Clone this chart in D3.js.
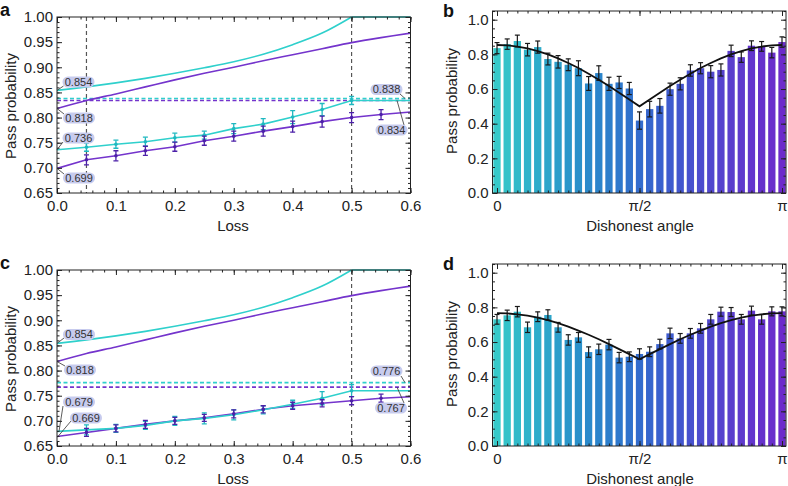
<!DOCTYPE html>
<html>
<head>
<meta charset="utf-8">
<script src="https://cdn.jsdelivr.net/npm/d3@7"></script>
<style>
    body { margin: 0; background: #fff; }
    svg { font-family: "Liberation Sans", Arial, sans-serif; }
</style>
</head>
<body>
<svg id="chart" width="788" height="486"></svg>
<script>
// ---- data ----
const lossGrid = [0, 0.05, 0.1, 0.15, 0.2, 0.25, 0.3, 0.35, 0.4, 0.45, 0.5, 0.55, 0.6]

// upper (theory) curves, same in a and c
const upperCyan = [0.854, 0.861, 0.869, 0.878, 0.888, 0.899, 0.911, 0.926, 0.945, 0.968, 1.0, 1.0, 1.0]
const upperPurple = [0.818, 0.834, 0.847, 0.861, 0.875, 0.888, 0.900, 0.913, 0.925, 0.937, 0.949, 0.959, 0.968]

// panel a
const lowCyanA = [0.736, 0.741, 0.747, 0.752, 0.760, 0.765, 0.778, 0.787, 0.801, 0.816, 0.834, 0.834, 0.834]
const lowPurpleA = [0.699, 0.716, 0.724, 0.734, 0.742, 0.754, 0.763, 0.773, 0.782, 0.792, 0.800, 0.806, 0.811]
const errCyanA = [0, 0.008, 0.008, 0.009, 0.009, 0.008, 0.010, 0.011, 0.013, 0.012, 0.008, 0, 0]
const errPurpleA = [0, 0.010, 0.010, 0.009, 0.009, 0.009, 0.010, 0.010, 0.011, 0.011, 0.010, 0.010, 0]
const dashA = { cyan: 0.838, purple: 0.834 }

// panel c
const lowCyanC = [0.679, 0.682, 0.685, 0.691, 0.700, 0.705, 0.712, 0.722, 0.733, 0.745, 0.760, 0.760, 0.760]
const lowPurpleC = [0.669, 0.677, 0.685, 0.693, 0.700, 0.706, 0.714, 0.723, 0.730, 0.735, 0.740, 0.745, 0.748]
const errCyanC = [0, 0.010, 0.008, 0.008, 0.009, 0.011, 0.010, 0.008, 0.008, 0.013, 0.012, 0, 0]
const errPurpleC = [0, 0.008, 0.007, 0.008, 0.007, 0.007, 0.008, 0.007, 0.007, 0.007, 0.008, 0.008, 0]
const dashC = { cyan: 0.776, purple: 0.767 }

// panels b and d: 29 dishonest angles from 0 to pi
const barsB = [0.836, 0.859, 0.877, 0.827, 0.842, 0.773, 0.757, 0.740, 0.720, 0.632, 0.692, 0.630, 0.638, 0.603, 0.418,
    0.484, 0.503, 0.599, 0.630, 0.707, 0.720, 0.700, 0.710, 0.820, 0.784, 0.850, 0.846, 0.810, 0.871]
const errB = [0.032, 0.030, 0.034, 0.036, 0.035, 0.034, 0.036, 0.034, 0.043, 0.040, 0.042, 0.038, 0.035, 0.035, 0.050,
    0.045, 0.042, 0.035, 0.035, 0.033, 0.032, 0.035, 0.035, 0.033, 0.030, 0.028, 0.028, 0.030, 0.030]
const curveB = [0.854, 0.852, 0.845, 0.834, 0.819, 0.800, 0.777, 0.750, 0.721, 0.688, 0.654, 0.617, 0.579, 0.540, 0.500,
    0.540, 0.579, 0.617, 0.654, 0.688, 0.721, 0.750, 0.777, 0.800, 0.819, 0.834, 0.845, 0.852, 0.854]

const barsD = [0.731, 0.754, 0.775, 0.685, 0.746, 0.756, 0.685, 0.612, 0.627, 0.542, 0.558, 0.585, 0.510, 0.515, 0.531,
    0.544, 0.588, 0.650, 0.621, 0.650, 0.679, 0.731, 0.775, 0.773, 0.731, 0.781, 0.731, 0.777, 0.777]
const errD = [0.028, 0.030, 0.030, 0.030, 0.028, 0.030, 0.028, 0.030, 0.028, 0.030, 0.030, 0.030, 0.030, 0.028, 0.030,
    0.028, 0.028, 0.030, 0.028, 0.028, 0.028, 0.028, 0.026, 0.026, 0.028, 0.026, 0.028, 0.026, 0.026]
const curveD = [0.767, 0.765, 0.760, 0.752, 0.741, 0.726, 0.709, 0.689, 0.666, 0.642, 0.616, 0.588, 0.559, 0.530, 0.500,
    0.530, 0.559, 0.588, 0.616, 0.642, 0.666, 0.689, 0.709, 0.726, 0.741, 0.752, 0.760, 0.765, 0.767]

const angleLabels = ['0', 'π/2', 'π']

// ---- styles ----
const cyan = '#2fd0cc'
const purple = '#7434cc'
const purpleDark = '#4c20a8'
const cyanDark = '#1fb8c0'
const ink = '#222'
const badgeFill = '#c7cbee'

const svg = d3.select('#chart')

function frameTicks(g, x, y, box, xMajor, xMinor, yMajor, yMinor, xFmt, yFmt) {
    const addAxis = (axis, tr) => {
        const a = g.append('g').attr('transform', tr).call(axis)
        a.select('.domain').remove()
        a.selectAll('line').attr('stroke', ink)
        a.selectAll('text').attr('fill', ink).style('font-size', '15px')
        return a
    }
    addAxis(d3.axisBottom(x).tickValues(xMajor).tickSize(-5).tickPadding(7).tickFormat(xFmt), `translate(0,${box.bottom})`)
    addAxis(d3.axisBottom(x).tickValues(xMinor).tickSize(-2.5).tickFormat(''), `translate(0,${box.bottom})`)
    addAxis(d3.axisTop(x).tickValues(xMajor).tickSize(-5).tickFormat(''), `translate(0,${box.top})`)
    addAxis(d3.axisTop(x).tickValues(xMinor).tickSize(-2.5).tickFormat(''), `translate(0,${box.top})`)
    addAxis(d3.axisLeft(y).tickValues(yMajor).tickSize(-5).tickPadding(4).tickFormat(yFmt), `translate(${box.left},0)`)
    addAxis(d3.axisLeft(y).tickValues(yMinor).tickSize(-2.5).tickFormat(''), `translate(${box.left},0)`)
    addAxis(d3.axisRight(y).tickValues(yMajor).tickSize(-5).tickFormat(''), `translate(${box.right},0)`)
    addAxis(d3.axisRight(y).tickValues(yMinor).tickSize(-2.5).tickFormat(''), `translate(${box.right},0)`)

    g.append('rect')
        .attr('x', box.left).attr('y', box.top)
        .attr('width', box.right - box.left).attr('height', box.bottom - box.top)
        .attr('fill', 'none').attr('stroke', ink).attr('stroke-width', 1)
}

function titles(g, letter, lx, ly, ytx, yty, xtx, xty, xTitle) {
    g.append('text').attr('x', lx).attr('y', ly).text(letter)
        .style('font-size', '18px').style('font-weight', 'bold').attr('fill', '#111')
    g.append('text').attr('transform', `translate(${ytx},${yty}) rotate(-90)`)
        .attr('text-anchor', 'middle').attr('dy', '0.35em')
        .style('font-size', '15px').attr('fill', ink).text('Pass probability')
    g.append('text').attr('x', xtx).attr('y', xty).attr('text-anchor', 'middle')
        .style('font-size', '15px').attr('fill', ink).text(xTitle)
}

function badge(g, text, cx, cy, from, to) {
    g.append('line')
        .attr('x1', from[0]).attr('y1', from[1]).attr('x2', to[0]).attr('y2', to[1])
        .attr('stroke', '#333').attr('stroke-width', 0.8)
    g.append('rect')
        .attr('x', cx - 16).attr('y', cy - 5.5).attr('width', 32).attr('height', 11)
        .attr('rx', 5.5).attr('fill', badgeFill)
    g.append('text').attr('x', cx).attr('y', cy).attr('dy', '0.36em')
        .attr('text-anchor', 'middle').style('font-size', '11px').attr('fill', '#333').text(text)
}

function drawLossPanel(p) {
    const box = { left: 57, right: 410.5, top: p.top, bottom: p.top + 176 }
    const x = d3.scaleLinear().domain([0, 0.6]).range([box.left, box.right])
    const y = d3.scaleLinear().domain([0.65, 1.0]).range([box.bottom, box.top])
    const g = svg.append('g')

    const clipId = 'clip-' + p.letter
    svg.append('clipPath').attr('id', clipId).append('rect')
        .attr('x', box.left).attr('y', box.top - 1)
        .attr('width', box.right - box.left).attr('height', box.bottom - box.top + 1)

    const plot = g.append('g').attr('clip-path', `url(#${clipId})`)

    // vertical reference lines
    p.vlines.forEach(v => {
        plot.append('line')
            .attr('x1', x(v)).attr('x2', x(v)).attr('y1', box.top).attr('y2', box.bottom)
            .attr('stroke', '#555').attr('stroke-width', 1.2).attr('stroke-dasharray', '4,3')
    })

    // dashed horizontal asymptotes
    const hl = (v, c) => plot.append('line')
        .attr('x1', box.left).attr('x2', box.right).attr('y1', y(v)).attr('y2', y(v))
        .attr('stroke', c).attr('stroke-width', 1.6).attr('stroke-dasharray', '4,2.5')
    hl(p.dash.purple, purple)
    hl(p.dash.cyan, cyan)

    const pts = vals => vals.map((v, i) => [x(lossGrid[i]), y(v)])
    const line = d3.line()
    const smooth = d3.line().curve(d3.curveCatmullRom.alpha(0.5))

    const drawCurve = (points, c, gen) => plot.append('path')
        .attr('d', gen(points)).attr('fill', 'none').attr('stroke', c).attr('stroke-width', 1.6)

    drawCurve(pts(upperPurple), purple, smooth)
    const cyanPts = pts(upperCyan)
    drawCurve(cyanPts.slice(0, 11), cyan, smooth)
    drawCurve(cyanPts.slice(10), cyan, line)
    drawCurve(pts(p.lowPurple), purple, line)
    drawCurve(pts(p.lowCyan), cyan, line)

    // error bars on measured points
    const errBars = (vals, errs, c) => {
        vals.forEach((v, i) => {
            if (!errs[i]) return
            const cx = x(lossGrid[i])
            const eg = plot.append('g').attr('stroke', c).attr('stroke-width', 1.3)
            eg.append('line').attr('x1', cx).attr('x2', cx).attr('y1', y(v - errs[i])).attr('y2', y(v + errs[i]))
            eg.append('line').attr('x1', cx - 2.5).attr('x2', cx + 2.5).attr('y1', y(v - errs[i])).attr('y2', y(v - errs[i]))
            eg.append('line').attr('x1', cx - 2.5).attr('x2', cx + 2.5).attr('y1', y(v + errs[i])).attr('y2', y(v + errs[i]))
            plot.append('circle').attr('cx', cx).attr('cy', y(v)).attr('r', 1.8).attr('fill', c)
        })
    }
    errBars(p.lowCyan, p.errCyan, cyanDark)
    errBars(p.lowPurple, p.errPurple, purpleDark)

    frameTicks(g, x, y, box,
        d3.range(0, 7).map(i => i / 10), d3.range(0, 31).map(i => i / 50),
        d3.range(0, 8).map(i => 0.65 + i * 0.05), d3.range(0, 36).map(i => 0.65 + i * 0.01),
        d3.format('.1f'), d3.format('.2f'))

    titles(g, p.letter, 0, box.top - 1, 11, box.top + 89, 233, box.bottom + 38, 'Loss')

    // value badges
    const f = d3.format('.3f')
    p.badges.forEach(b => {
        badge(g, f(b.value), b.cx, b.cy, [b.fx, b.fy], [b.tx, y(b.value)])
    })
}

function drawAnglePanel(p) {
    const box = { left: 492.5, right: 786, top: p.zero - 182, bottom: p.zero }
    const x = d3.scaleLinear().domain([0, Math.PI]).range([497, 782])
    const y = d3.scaleLinear().domain([0, 1]).range([p.zero, p.zero - 173.3])
    const g = svg.append('g')
    const n = p.bars.length
    const angles = p.bars.map((d, i) => i * Math.PI / (n - 1))
    const color = d3.scaleSequential(d3.interpolateRgbBasis(['#36c9c9', '#2aa0ca', '#2a7ccb', '#3a5ccf', '#5a3fce', '#6c2bcb']))
        .domain([0, n - 1])
    const bw = 7.3

    g.selectAll('.bar')
        .data(p.bars)
        .enter().append('rect')
        .attr('class', 'bar')
        .attr('x', (d, i) => x(angles[i]) - bw / 2)
        .attr('y', d => y(d))
        .attr('width', bw)
        .attr('height', d => y(0) - y(d))
        .attr('fill', (d, i) => color(i))

    const eg = g.append('g').attr('stroke', '#1a1a1a').attr('stroke-width', 1.2)
    p.bars.forEach((v, i) => {
        const cx = x(angles[i])
        const lo = y(v - p.errs[i]), hi = y(v + p.errs[i])
        eg.append('line').attr('x1', cx).attr('x2', cx).attr('y1', lo).attr('y2', hi)
        eg.append('line').attr('x1', cx - 2.5).attr('x2', cx + 2.5).attr('y1', lo).attr('y2', lo)
        eg.append('line').attr('x1', cx - 2.5).attr('x2', cx + 2.5).attr('y1', hi).attr('y2', hi)
    })

    g.append('path')
        .attr('d', d3.line().x((d, i) => x(angles[i])).y(d => y(d))(p.curve))
        .attr('fill', 'none').attr('stroke', '#111').attr('stroke-width', 1.8)

    const yTop = y.invert(box.top)
    frameTicks(g, x, y, box,
        [0, Math.PI / 2, Math.PI], angles,
        d3.range(0, 6).map(i => i * 0.2), d3.range(0, 22).map(i => i * 0.05).filter(v => v <= yTop),
        (d, i) => angleLabels[i], d3.format('.1f'))

    titles(g, p.letter, 443, p.letterY, 452, p.zero - 92, 640, p.zero + 38, 'Dishonest angle')
}

drawLossPanel({
    letter: 'a', top: 17, vlines: [0.05, 0.5],
    lowCyan: lowCyanA, lowPurple: lowPurpleA, errCyan: errCyanA, errPurple: errPurpleA, dash: dashA,
    badges: [
        { value: upperCyan[0], cx: 78.5, cy: 82, fx: 63.5, fy: 86, tx: 57 },
        { value: upperPurple[0], cx: 79, cy: 118, fx: 64, fy: 114, tx: 57 },
        { value: lowCyanA[0], cx: 78.5, cy: 138, fx: 63, fy: 142, tx: 57 },
        { value: lowPurpleA[0], cx: 79, cy: 178, fx: 64, fy: 174, tx: 57 },
        { value: dashA.cyan, cx: 386.5, cy: 89.5, fx: 400, fy: 94, tx: 405 },
        { value: dashA.purple, cx: 391.5, cy: 130, fx: 404, fy: 125, tx: 397 },
    ]
})

drawLossPanel({
    letter: 'c', top: 270, vlines: [0.5],
    lowCyan: lowCyanC, lowPurple: lowPurpleC, errCyan: errCyanC, errPurple: errPurpleC, dash: dashC,
    badges: [
        { value: upperCyan[0], cx: 79, cy: 334.5, fx: 64, fy: 338, tx: 57 },
        { value: upperPurple[0], cx: 80, cy: 370, fx: 65, fy: 366, tx: 57 },
        { value: lowCyanC[0], cx: 79, cy: 402, fx: 63, fy: 406, tx: 59 },
        { value: lowPurpleC[0], cx: 86, cy: 418, fx: 71, fy: 421, tx: 58 },
        { value: dashC.cyan, cx: 386.5, cy: 371, fx: 401, fy: 376, tx: 405 },
        { value: dashC.purple, cx: 391, cy: 408, fx: 404, fy: 403, tx: 397 },
    ]
})

drawAnglePanel({ letter: 'b', zero: 193, letterY: 17, bars: barsB, errs: errB, curve: curveB })
drawAnglePanel({ letter: 'd', zero: 446, letterY: 270, bars: barsD, errs: errD, curve: curveD })
</script>
</body>
</html>
